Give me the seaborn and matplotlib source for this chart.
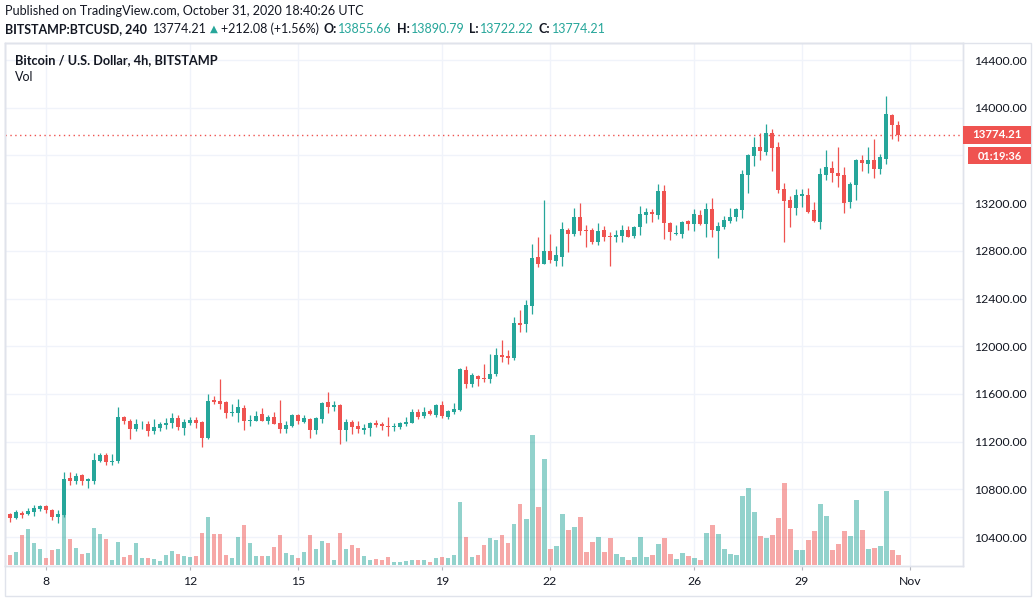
import matplotlib
matplotlib.use("Agg")
import numpy as np
import pandas as pd
import seaborn as sns
import matplotlib.pyplot as plt
from matplotlib.patches import Rectangle
from matplotlib.transforms import blended_transform_factory

# 4h candles, BITSTAMP:BTCUSD, Oct 7 00:00 -> Oct 31 16:00
opens = [10593, 10560, 10602, 10593, 10613, 10635, 10660, 10627, 10571, 10588,
         10896, 10873, 10921, 10873, 10873, 11038, 11089, 11033, 11041, 11408,
         11374, 11307, 11344, 11349, 11285, 11317, 11336, 11356, 11398, 11317,
         11356, 11381, 11364, 11233, 11549, 11540, 11532, 11440, 11440, 11482,
         11373, 11373, 11431, 11373, 11406, 11356, 11306, 11331, 11423, 11364,
         11389, 11297, 11389, 11532, 11490, 11507, 11297, 11364, 11331, 11297,
         11314, 11356, 11348, 11331, 11325, 11322, 11348, 11356, 11448, 11415,
         11457, 11423, 11507, 11406, 11448, 11465, 11800, 11683, 11750, 11733,
         11725, 11767, 11926, 11918, 11901, 12194, 12186, 12337, 12748, 12689,
         12798, 12714, 12748, 12974, 12941, 13083, 12977, 12974, 12874, 12974,
         12924, 12916, 12924, 12974, 12924, 12999, 13100, 13125, 13100, 13301,
         13033, 12941, 12941, 13050, 13024, 13100, 13024, 13150, 12966, 13000,
         13050, 13083, 13142, 13435, 13595, 13670, 13628, 13787, 13670, 13318,
         13226, 13159, 13259, 13268, 13142, 13041, 13435, 13494, 13452, 13435,
         13209, 13351, 13561, 13528, 13561, 13486, 13570, 13939, 13855.66]
highs = [10604, 10627, 10618, 10644, 10669, 10666, 10669, 10632, 10627, 10946,
         10946, 10938, 10929, 10896, 11106, 11106, 11106, 11097, 11492, 11416,
         11391, 11391, 11374, 11374, 11391, 11364, 11398, 11440, 11420, 11389,
         11406, 11406, 11373, 11599, 11582, 11725, 11540, 11515, 11557, 11507,
         11423, 11457, 11482, 11423, 11448, 11549, 11373, 11431, 11429, 11423,
         11398, 11406, 11532, 11616, 11540, 11512, 11389, 11381, 11373, 11348,
         11364, 11381, 11364, 11406, 11356, 11364, 11406, 11473, 11473, 11490,
         11473, 11515, 11540, 11465, 11524, 11817, 11834, 11775, 11758, 11851,
         11934, 11985, 12052, 11968, 12245, 12303, 12387, 12857, 12915, 13226,
         12941, 12840, 13041, 12991, 13159, 13201, 13016, 12991, 13033, 13008,
         12957, 12974, 13016, 13008, 13008, 13175, 13159, 13150, 13360, 13352,
         13041, 13016, 13050, 13058, 13150, 13142, 13201, 13243, 13041, 13092,
         13159, 13159, 13477, 13611, 13754, 13787, 13863, 13821, 13712, 13368,
         13259, 13318, 13318, 13326, 13209, 13494, 13645, 13553, 13670, 13502,
         13377, 13567, 13603, 13670, 13737, 13611, 14098, 13947, 13890.79]
lows = [10529, 10554, 10562, 10582, 10579, 10621, 10604, 10546, 10520, 10571,
        10837, 10848, 10837, 10814, 10848, 11030, 11008, 11008, 11024, 11344,
        11218, 11285, 11307, 11251, 11268, 11292, 11308, 11317, 11300, 11258,
        11339, 11317, 11157, 11224, 11515, 11473, 11398, 11415, 11364, 11297,
        11331, 11373, 11373, 11348, 11348, 11272, 11272, 11322, 11348, 11356,
        11230, 11264, 11356, 11440, 11457, 11180, 11205, 11264, 11272, 11264,
        11247, 11322, 11297, 11247, 11289, 11306, 11331, 11356, 11389, 11398,
        11423, 11406, 11398, 11389, 11431, 11457, 11649, 11658, 11666, 11700,
        11691, 11750, 11867, 11851, 11884, 12119, 12119, 12270, 12664, 12689,
        12698, 12672, 12672, 12790, 12924, 12932, 12832, 12857, 12848, 12882,
        12675, 12874, 12874, 12916, 12907, 12932, 13033, 13041, 13066, 12899,
        12890, 12932, 12907, 12974, 12966, 13016, 12916, 12916, 12744, 12983,
        13033, 13050, 13075, 13284, 13511, 13561, 13603, 13469, 13284, 12874,
        12999, 13100, 13167, 13117, 13041, 12983, 13393, 13377, 13335, 13117,
        13159, 13226, 13469, 13452, 13410, 13444, 13528, 13737, 13722.22]
closes = [10562, 10607, 10585, 10618, 10644, 10660, 10630, 10571, 10593, 10887,
          10873, 10912, 10873, 10890, 11047, 11089, 11030, 11041, 11408, 11369,
          11307, 11349, 11352, 11285, 11324, 11348, 11359, 11398, 11325, 11364,
          11381, 11356, 11233, 11540, 11532, 11515, 11440, 11448, 11490, 11373,
          11381, 11415, 11373, 11406, 11348, 11306, 11339, 11423, 11373, 11398,
          11297, 11398, 11524, 11490, 11507, 11297, 11364, 11322, 11306, 11314,
          11356, 11339, 11331, 11325, 11331, 11356, 11364, 11448, 11406, 11448,
          11431, 11507, 11415, 11457, 11473, 11809, 11683, 11758, 11725, 11725,
          11767, 11926, 11909, 11901, 12194, 12178, 12345, 12739, 12689, 12798,
          12723, 12765, 12983, 12941, 13083, 12966, 12969, 12874, 12966, 12916,
          12916, 12932, 12974, 12916, 12999, 13108, 13125, 13108, 13301, 13033,
          12957, 12949, 13041, 13024, 13108, 13024, 13150, 12974, 13008, 13058,
          13083, 13150, 13444, 13603, 13670, 13637, 13787, 13662, 13310, 13217,
          13159, 13268, 13276, 13125, 13050, 13444, 13502, 13452, 13427, 13200,
          13360, 13561, 13536, 13561, 13486, 13586, 13947, 13856, 13774.21]
volumes = [10, 13, 30, 36, 22, 16, 7, 15, 16, 50, 26, 17, 11, 12, 37, 31, 26, 5, 23, 8,
           10, 22, 7, 7, 6, 4, 10, 14, 11, 9, 8, 9, 32, 48, 31, 31, 10, 7, 28, 40,
           22, 9, 9, 9, 18, 30, 12, 10, 7, 13, 30, 16, 24, 22, 5, 32, 16, 20, 17, 9,
           5, 6, 5, 8, 3, 3, 4, 5, 5, 5, 3, 7, 8, 7, 10, 63, 28, 8, 10, 20,
           27, 25, 30, 22, 41, 61, 46, 130, 58, 106, 16, 19, 51, 35, 38, 48, 13, 23, 28, 13,
           27, 11, 8, 5, 8, 28, 8, 10, 21, 27, 11, 6, 12, 9, 7, 5, 32, 40, 31, 16,
           11, 10, 69, 77, 53, 29, 27, 30, 47, 82, 36, 15, 15, 25, 34, 61, 49, 15, 21, 34,
           29, 65, 35, 16, 17, 19, 74, 15, 10]

date_ticks = [6, 30, 48, 72, 90, 114, 132, 150]
date_labels = ["8", "12", "15", "19", "22", "26", "29", "Nov"]
price_ticks = list(range(10400, 14401, 400))
last_price = 13774.21

df = pd.DataFrame({"open": opens, "high": highs, "low": lows,
                   "close": closes, "volume": volumes})
df["idx"] = np.arange(len(df))
df["up"] = df["close"] >= df["open"]

UP, DOWN = "#26a69a", "#ef5350"
GRID, BORDER, TEXT = "#f0f3fa", "#e0e3eb", "#131722"

sns.set_theme(style="white")
plt.rcParams["font.family"] = ["Lato", "DejaVu Sans"]

W, H = 1034, 601
fig = plt.figure(figsize=(W / 100, H / 100), dpi=100)
fig.patch.set_facecolor("white")


def fx(px):
    return px / W


def fy(py):
    return 1 - py / H


L, R, T, B = 5, 963, 43, 566
ax_vol = fig.add_axes([fx(L), fy(B), (R - L) / W, (B - T) / H])
ax = ax_vol.twinx()

# volume (bottom layer)
ax_vol.bar(df["idx"], df["volume"], width=0.83,
           color=[UP if u else DOWN for u in df["up"]], alpha=0.5, linewidth=0)
ax_vol.set_ylim(-1, B - T - 1)
ax_vol.set_yticks([])
ax_vol.set_xlim(-0.833, 158.83)
ax_vol.set_xticks(date_ticks)
ax_vol.set_xticklabels(date_labels)
ax_vol.tick_params(axis="x", length=3, width=0.8, color="#b2b5be",
                   labelsize=8.8, labelcolor=TEXT, pad=4, bottom=True)
for x in date_ticks:
    ax_vol.axvline(x, color=GRID, lw=1, zorder=0)
hline_tr = blended_transform_factory(ax_vol.transAxes, ax.transData)
for p in price_ticks:
    ax_vol.plot([0, 1], [p, p], transform=hline_tr, color=GRID, lw=1, zorder=0)

# candles
colors = [UP if u else DOWN for u in df["up"]]
body_lo = np.minimum(df["open"], df["close"])
body_h = np.maximum(np.abs(df["close"] - df["open"]), 8)
ax.vlines(df["idx"], df["low"], df["high"], colors=colors, lw=0.9, zorder=2)
ax.bar(df["idx"], body_h, bottom=body_lo, width=0.75, color=colors,
       linewidth=0, zorder=3)
ax.axhline(last_price, color=DOWN, lw=1, ls=(0, (1, 2.5)), zorder=1)

ax.set_ylim(10157, 14543)
ax.set_yticks(price_ticks)
# the 13600 label sits under the countdown badge, as on the original
ax.set_yticklabels(["" if p == 13600 else f"{p:.2f}" for p in price_ticks])
ax.tick_params(axis="y", length=0, labelsize=8.8, labelcolor=TEXT, pad=8)

for a in (ax, ax_vol):
    for s in a.spines.values():
        s.set_color(BORDER)
        s.set_linewidth(1)

# outer frame around price and time scales
fig.add_artist(Rectangle((fx(L), fy(596)), (1031 - L) / W, (596 - T) / H,
                         transform=fig.transFigure, fill=False,
                         edgecolor=BORDER, lw=1))

# price / countdown labels
fig.add_artist(Rectangle((fx(963), fy(144)), 68 / W, 18 / H,
                         transform=fig.transFigure, color=DOWN, lw=0))
fig.text(fx(997), fy(134.5), f"{last_price:.2f}", color="white",
         fontsize=8.3, fontweight="bold", ha="center", va="center")
fig.add_artist(Rectangle((fx(968), fy(164)), 63 / W, 17 / H,
                         transform=fig.transFigure, color=DOWN, lw=0))
fig.text(fx(999.5), fy(156), "01:19:36", color="white",
         fontsize=7.9, fontweight="bold", ha="center", va="center")

# legend text inside the pane
fig.text(fx(15), fy(60), "Bitcoin / U.S. Dollar, 4h, BITSTAMP", color=TEXT,
         fontsize=9.2, fontweight="bold", va="center")
fig.text(fx(15), fy(77), "Vol", color=TEXT, fontsize=9.0, va="center")

# header
fig.text(fx(5), fy(11), "Published on TradingView.com, October 31, 2020 18:40:26 UTC",
         color=TEXT, fontsize=9.1, va="center")

renderer = fig.canvas.get_renderer()
pieces = [
    ("BITSTAMP:BTCUSD, 240", TEXT, "bold", 6),
    ("13774.21", TEXT, "normal", 3),
    ("\u25b2", UP, "normal", 3),
    ("+212.08 (+1.56%)", TEXT, "normal", 5),
    ("O:", TEXT, "bold", 1),
    ("13855.66", UP, "normal", 5),
    ("H:", TEXT, "bold", 1),
    ("13890.79", UP, "normal", 5),
    ("L:", TEXT, "bold", 1),
    ("13722.22", UP, "normal", 5),
    ("C:", TEXT, "bold", 1),
    ("13774.21", UP, "normal", 0),
]
xpos = 5
for txt, col, wt, gap in pieces:
    fam = ["DejaVu Sans"] if txt == "\u25b2" else ["Lato", "DejaVu Sans"]
    fs = 7.4 if txt == "\u25b2" else 9.0
    t = fig.text(fx(xpos), fy(29), txt, color=col, fontsize=fs,
                 fontweight=wt, va="center", family=fam)
    bb = t.get_window_extent(renderer)
    xpos = bb.x1 + gap

fig.savefig("out.png", dpi=100)
